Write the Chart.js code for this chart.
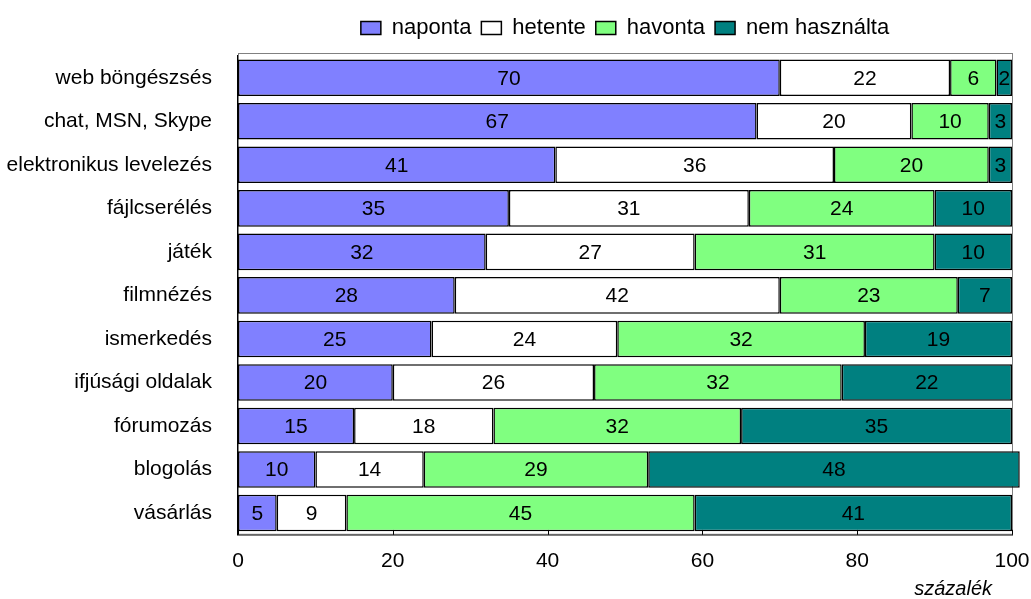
<!DOCTYPE html>
<html>
<head>
<meta charset="utf-8">
<script src="https://cdn.jsdelivr.net/npm/chart.js@4.4.0/dist/chart.umd.min.js"></script>
<style>
    html, body { margin: 0; padding: 0; background: #fff; }
    #wrap { width: 1031px; height: 599px; }
</style>
</head>
<body>
<div id="wrap"><canvas id="usageChart" width="1031" height="599"></canvas></div>
<script>
// Categories (top to bottom)
const categories = [
    'web böngészsés', 'chat, MSN, Skype', 'elektronikus levelezés', 'fájlcserélés',
    'játék', 'filmnézés', 'ismerkedés', 'ifjúsági oldalak', 'fórumozás', 'blogolás', 'vásárlás'
];
// Series values (percent)
const naponta     = [70, 67, 41, 35, 32, 28, 25, 20, 15, 10, 5];
const hetente     = [22, 20, 36, 31, 27, 42, 24, 26, 18, 14, 9];
const havonta     = [6, 10, 20, 24, 31, 23, 32, 32, 32, 29, 45];
const nemHasznalta = [2, 3, 3, 10, 10, 7, 19, 22, 35, 48, 41];
const xTicks = [0, 20, 40, 60, 80, 100];

const fontFamily = '"Liberation Sans", Arial, sans-serif';
const fontSize = 21;

// Draw the value inside every bar segment
const barLabels = {
    id: 'barLabels',
    afterDatasetsDraw(chart) {
        const ctx = chart.ctx;
        ctx.save();
        ctx.font = '21px ' + fontFamily;
        ctx.fillStyle = '#000';
        ctx.textAlign = 'center';
        ctx.textBaseline = 'middle';
        chart.data.datasets.forEach((ds, i) => {
            chart.getDatasetMeta(i).data.forEach((bar, j) => {
                const cx = (bar.x + bar.base) / 2;
                ctx.fillText(String(ds.data[j]), cx, bar.y + 1);
            });
        });
        ctx.restore();
    }
};

// Thin frame round the plot area, with small inward ticks on the x axis
const plotFrame = {
    id: 'plotFrame',
    beforeDatasetsDraw(chart) {
        const { ctx, chartArea: a, scales } = chart;
        ctx.save();
        ctx.strokeStyle = '#808080';
        ctx.lineWidth = 1;
        ctx.strokeRect(a.left + 0.5, a.top - 2.5, a.right - a.left, a.bottom - a.top + 2);
        ctx.strokeStyle = '#000';
        xTicks.forEach(v => {
            const x = Math.round(scales.x.getPixelForValue(v)) + 0.5;
            ctx.beginPath();
            ctx.moveTo(x, a.bottom);
            ctx.lineTo(x, a.bottom - 5);
            ctx.stroke();
        });
        ctx.restore();
    }
};

// Centre the legend over the plot area and leave more room under it
const legendOverPlot = {
    id: 'legendOverPlot',
    beforeLayout(chart) {
        const lg = chart.legend;
        if (lg && !lg._extraGap) {
            const fit = lg.fit.bind(lg);
            lg.fit = function () { fit(); this.height += 7; };
            lg._extraGap = true;
        }
    },
    afterLayout(chart) {
        const lg = chart.legend;
        if (!lg) return;
        lg.left = chart.chartArea.left;
        lg.right = chart.chartArea.right;
        lg.width = lg.right - lg.left;
        lg.adjustHitBoxes();
    }
};

const ctx = document.getElementById('usageChart').getContext('2d');
const usageChart = new Chart(ctx, {
    type: 'bar',
    data: {
        labels: categories,
        datasets: [
            { label: 'naponta', data: naponta, backgroundColor: '#8080ff' },
            { label: 'hetente', data: hetente, backgroundColor: '#ffffff' },
            { label: 'havonta', data: havonta, backgroundColor: '#80ff80' },
            { label: 'nem használta', data: nemHasznalta, backgroundColor: '#008080' }
        ].map(d => Object.assign(d, {
            borderColor: '#000',
            borderWidth: 1.5,
            borderSkipped: false,
            categoryPercentage: 1,
            barPercentage: 0.84,
            clip: false
        }))
    },
    options: {
        indexAxis: 'y',
        responsive: false,
        animation: false,
        layout: { padding: { top: 7, right: 19, bottom: 0, left: 0 } },
        plugins: {
            legend: {
                position: 'top',
                labels: {
                    font: { family: fontFamily, size: 22 },
                    color: '#000',
                    boxWidth: 20,
                    boxHeight: 13,
                    padding: 10,
                    useBorderRadius: false
                }
            },
            tooltip: { enabled: false }
        },
        scales: {
            x: {
                stacked: true,
                min: 0,
                max: 100,
                afterBuildTicks: axis => { axis.ticks = xTicks.map(v => ({ value: v })); },
                afterFit: axis => { axis.paddingRight = 0; axis.height -= 13; },
                grid: { display: false, drawTicks: false },
                border: { color: '#000', width: 1.5 },
                ticks: { font: { family: fontFamily, size: fontSize }, color: '#000', padding: 14 },
                title: {
                    display: true,
                    text: 'százalék\u2003',
                    align: 'end',
                    font: { family: fontFamily, size: 20, style: 'italic', lineHeight: 1 },
                    color: '#000',
                    padding: { top: 4, bottom: 0 }
                }
            },
            y: {
                stacked: true,
                afterFit: axis => { axis.width = 238; },
                grid: { display: false, drawTicks: false },
                border: { color: '#000', width: 1.5 },
                ticks: { font: { family: fontFamily, size: fontSize }, color: '#000', padding: 26 }
            }
        }
    },
    plugins: [plotFrame, barLabels, legendOverPlot]
});
</script>
</body>
</html>
